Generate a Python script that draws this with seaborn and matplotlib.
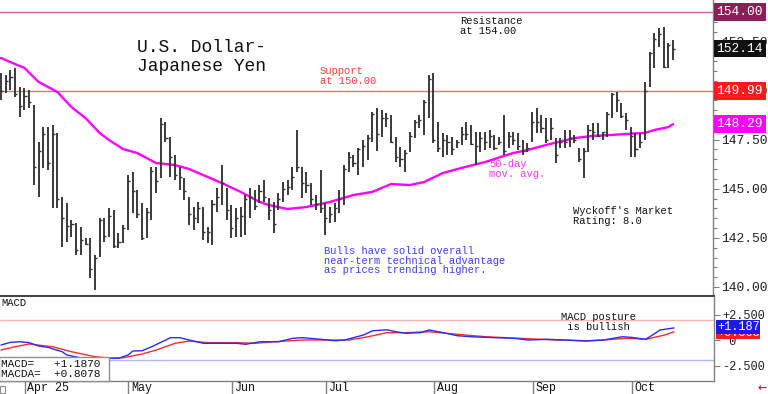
import numpy as np
import pandas as pd
import seaborn as sns
import matplotlib.pyplot as plt
from matplotlib import transforms
from matplotlib.patches import Rectangle

# daily bars, oldest first
highs = [150.9, 150.8, 151.05, 151.15, 150.2, 150.15, 150.05, 149.25, 147.4, 148.15,
         148.15, 148.25, 147.85, 144.6, 144.25, 143.4, 143.25, 143.05, 142.5, 142.5,
         141.65, 143.5, 143.5, 144.0, 143.9, 142.75, 143.15, 145.7, 145.85, 144.95,
         144.25, 144.0, 146.1, 146.1, 148.6, 148.4, 147.65, 146.7, 146.1, 145.55,
         144.6, 144.05, 144.35, 144.05, 143.05, 144.45, 145.05, 146.2, 145.05, 144.15,
         144.0, 144.05, 144.7, 145.05, 144.95, 145.2, 145.45, 144.55, 144.35, 144.8,
         145.35, 145.45, 146.1, 148.0, 146.1, 145.85, 145.3, 144.7, 145.95, 144.25,
         144.05, 144.25, 144.95, 146.2, 146.85, 146.7, 147.1, 147.5, 147.75, 148.9,
         149.1, 149.0, 148.85, 148.75, 147.65, 147.15, 146.95, 147.9, 148.5, 148.75,
         149.5, 150.8, 150.9, 148.4, 147.85, 147.75, 147.65, 147.5, 148.15, 148.4,
         148.25, 147.9, 147.9, 147.9, 148.0, 147.75, 147.65, 148.75, 147.9, 147.9,
         147.85, 147.5, 147.35, 148.9, 149.1, 148.75, 148.6, 148.6, 147.6, 147.6,
         148.0, 148.0, 147.75, 147.1, 147.1, 148.25, 148.35, 148.35, 147.9, 148.9,
         149.9, 149.95, 149.35, 148.85, 148.15, 147.85, 147.85, 150.45, 151.95, 152.95,
         153.2, 153.25, 152.4, 152.55]
lows = [149.5, 149.9, 150.05, 149.65, 148.65, 149.0, 149.1, 145.2, 144.6, 146.05,
        145.95, 144.0, 144.0, 142.05, 142.3, 142.55, 141.65, 141.65, 142.15, 140.45,
        139.85, 141.55, 142.3, 142.55, 142.0, 142.0, 142.25, 142.9, 143.75, 143.5,
        142.4, 142.5, 143.4, 144.8, 145.55, 147.4, 145.6, 145.45, 144.95, 144.45,
        143.15, 142.9, 143.25, 142.4, 142.25, 142.15, 143.8, 144.15, 143.4, 142.5,
        142.55, 142.55, 142.65, 143.5, 143.9, 144.25, 144.35, 143.4, 142.75, 143.9,
        144.35, 144.7, 144.95, 145.85, 144.55, 144.8, 144.15, 143.9, 143.75, 142.65,
        143.25, 143.3, 143.75, 144.15, 145.85, 146.1, 145.7, 146.1, 146.45, 147.4,
        146.9, 147.65, 148.15, 147.35, 146.35, 146.1, 145.85, 146.85, 147.6, 148.1,
        147.75, 148.6, 147.35, 146.85, 146.6, 146.7, 146.7, 147.1, 147.25, 147.5,
        147.25, 146.2, 146.85, 146.95, 147.1, 146.95, 147.25, 146.7, 147.1, 147.25,
        146.95, 146.7, 146.85, 147.4, 147.85, 147.85, 147.35, 147.5, 146.3, 147.1,
        147.1, 147.15, 147.35, 146.35, 145.55, 146.85, 147.5, 147.65, 147.5, 147.65,
        148.6, 148.9, 148.6, 148.0, 146.6, 146.6, 147.1, 147.5, 150.2, 151.15,
        152.2, 151.15, 151.15, 151.55]
closes = [150.0, 150.5, 150.7, 149.8, 149.2, 149.7, 149.4, 146.1, 146.9, 147.8,
          146.3, 147.8, 144.5, 143.5, 143.1, 143.2, 141.9, 142.4, 142.2, 140.9,
          141.5, 143.4, 142.6, 143.6, 142.1, 142.3, 143.0, 145.4, 144.9, 143.7,
          142.5, 143.8, 145.9, 145.4, 148.3, 147.6, 146.6, 145.7, 145.6, 144.9,
          143.7, 143.5, 144.0, 142.8, 142.8, 144.2, 144.6, 145.3, 143.9, 143.0,
          143.5, 143.6, 144.5, 144.6, 144.1, 144.9, 144.6, 143.9, 143.2, 144.5,
          145.0, 145.1, 145.6, 146.1, 145.3, 145.2, 144.5, 144.2, 144.0, 143.5,
          143.7, 144.0, 144.5, 146.0, 146.6, 146.3, 147.0, 147.2, 147.6, 148.8,
          147.8, 148.6, 148.6, 147.4, 146.6, 146.5, 146.8, 147.7, 148.4, 148.5,
          149.4, 150.6, 147.5, 147.1, 147.5, 147.4, 147.0, 147.4, 147.8, 147.8,
          147.3, 147.2, 147.6, 147.4, 147.7, 147.1, 147.4, 146.9, 147.7, 147.5,
          147.2, 146.9, 147.1, 148.4, 148.4, 148.1, 147.5, 148.1, 146.7, 147.4,
          147.4, 147.6, 147.5, 146.5, 146.9, 148.0, 147.9, 147.7, 147.9, 148.8,
          149.8, 149.5, 148.7, 148.5, 147.7, 147.0, 147.4, 150.0, 151.9, 152.6,
          152.9, 151.2, 152.3, 152.14]

# 50-day moving average, sampled along the magenta line
ma_idx = [0, 2, 5, 8, 12, 15, 18, 21, 23, 26, 29, 33, 37, 40, 44, 47, 51, 55, 57, 61,
          65, 70, 75, 79, 83, 87, 90, 94, 98, 103, 109, 112, 116, 122, 126, 130, 133,
          137, 139, 142, 143]
ma_vals = [151.66, 151.45, 151.15, 150.44, 149.93, 149.16, 148.6, 147.84, 147.48, 147.02,
           146.82, 146.31, 146.21, 146.01, 145.6, 145.29, 144.84, 144.33, 144.17, 143.97,
           144.07, 144.33, 144.68, 144.84, 145.24, 145.19, 145.34, 145.8, 146.06, 146.36,
           146.82, 146.97, 147.23, 147.58, 147.69, 147.74, 147.79, 147.84, 147.99, 148.14,
           148.29]

# MACD (blue) and MACDA signal (red)
macd_idx = [0, 2, 4, 6, 8, 10, 13, 14, 17, 20, 23, 25, 27, 28, 30, 32, 35, 36, 38, 40,
            43, 46, 50, 52, 55, 59, 62, 64, 68, 71, 73, 77, 79, 82, 84, 86, 89, 91, 94,
            97, 100, 105, 109, 112, 116, 120, 124, 128, 132, 134, 137, 139, 140, 143]
macd_vals = [-0.49, -0.23, -0.17, -0.26, -0.59, -0.72, -1.15, -1.47, -1.76, -1.86,
             -1.79, -1.79, -1.47, -1.08, -1.05, -0.66, 0.0, 0.23, 0.23, 0.0,
             -0.32, -0.32, -0.32, -0.42, -0.17, -0.17, 0.17, 0.23, 0.07, -0.07,
             0.0, 0.49, 0.91, 1.0, 0.81, 0.66, 0.72, 0.98, 0.72, 0.42,
             0.32, 0.23, 0.17, 0.0, 0.07, 0.0, -0.1, 0.0, 0.32, 0.26,
             0.07, 0.66, 0.98, 1.187]
sig_idx = [0, 3, 6, 11, 15, 20, 23, 26, 30, 33, 37, 40, 44, 50, 54, 58, 64, 70, 74, 78,
           82, 86, 91, 97, 103, 110, 118, 125, 128, 133, 137, 141, 143]
sig_vals = [-0.98, -0.66, -0.39, -0.66, -1.15, -1.64, -1.79, -1.74, -1.37, -0.98,
            -0.32, -0.1, -0.26, -0.26, -0.32, -0.17, 0.0, 0.0, 0.0, 0.32,
            0.72, 0.72, 0.81, 0.56, 0.32, 0.17, 0.0, -0.07, 0.0, 0.17,
            0.07, 0.49, 0.8078]

month_labels = ["Apr 25", "May", "Jun", "Jul", "Aug", "Sep", "Oct"]
month_start = [5, 27, 49, 69, 92, 113, 134]

W, H = 768, 394
def fx(px):
    return px / W
def fy(py):
    return 1 - py / H

sns.set_theme(style="white")
plt.rcParams['font.family'] = ['Liberation Mono', 'DejaVu Sans']

fig = plt.figure(figsize=(7.68, 3.94), dpi=100)
ax = fig.add_axes([0, fy(296), fx(713), 296 / H])
ax2 = fig.add_axes([0, fy(381), fx(714), (381 - 297) / H])

x = np.arange(len(highs))
xlim = (-0.21, 151.5)

# ---- price panel ----
ax.axhline(154.0, color='#c46a8e', lw=1.0, zorder=1)
ax.axhline(150.0, color='#f07070', lw=1.0, zorder=1)
ax.vlines(x, lows, highs, color='#333333', lw=1.35, zorder=3)
ax.hlines(closes, x, x + 0.45, color='#333333', lw=1.0, zorder=3)
sns.lineplot(x=ma_idx, y=ma_vals, ax=ax, color='#ff00ff', lw=1.7, zorder=2,
             estimator=None, sort=False)

ax.set_xlim(*xlim)
ax.set_ylim(139.54, 154.61)
ax.set_xticks([])
ax.yaxis.tick_right()
ax.set_yticks([140, 142.5, 145, 147.5, 150, 152.5])
ax.set_yticklabels(["140.00", "142.50", "145.00", "147.50", "150.00", "152.50"])
ax.set_yticks(np.arange(140, 154.01, 0.5), minor=True)
ax.tick_params(axis='y', which='major', right=True, length=4, width=0.8,
               color='#808080', labelsize=9.4, pad=2, labelcolor='#222222')
ax.tick_params(axis='y', which='minor', right=True, length=3, width=0.8, color='#808080')
for s in ['top', 'left']:
    ax.spines[s].set_visible(False)
ax.spines['right'].set_color('#808080')
ax.spines['right'].set_linewidth(1.0)
ax.spines['bottom'].set_color('#444444')
ax.spines['bottom'].set_linewidth(2.2)
ax.set_xlabel('')
ax.set_ylabel('')

ytr = transforms.blended_transform_factory(ax.transAxes, ax.transData)
for val, txt, col in [(154.0, "154.00", '#8c1f55'), (149.99, "149.99", '#ff1a1a'),
                      (148.29, "148.29", '#ff00ff'), (152.14, "152.14", '#111111')]:
    ax.text(1.005, val, txt, transform=ytr, ha='left', va='center', fontsize=9.4,
            color='white', clip_on=False,
            bbox=dict(facecolor=col, edgecolor='none', boxstyle='square,pad=0.22'))

fig.text(fx(137), fy(39), "U.S. Dollar-\nJapanese Yen", fontsize=13, va='top',
         ha='left', color='#111111', linespacing=1.12)
fig.text(fx(460), fy(16), "Resistance\nat 154.00", fontsize=7.6, va='top',
         color='#111111', linespacing=1.0)
fig.text(fx(320), fy(66), "Support\nat 150.00", fontsize=7.6, va='top',
         color='#ff3c3c', linespacing=1.0)
fig.text(fx(489), fy(159), "50-day\nmov. avg.", fontsize=7.6, va='top',
         color='#ff33ff', linespacing=1.0)
fig.text(fx(573), fy(206), "Wyckoff's Market\nRating: 8.0", fontsize=7.6, va='top',
         color='#111111', linespacing=1.0)
fig.text(fx(324), fy(246), "Bulls have solid overall\nnear-term technical advantage\n"
         "as prices trending higher.", fontsize=7.5, va='top', color='#3c3cff',
         linespacing=0.95)

# ---- MACD panel ----
ax2.axhline(2.0, color='#ffb4b4', lw=1.0, zorder=1)
ax2.axhline(-2.0, color='#b4b4ff', lw=1.0, zorder=1)
sns.lineplot(x=sig_idx, y=sig_vals, ax=ax2, color='#ff2a2a', lw=1.0, zorder=2,
             estimator=None, sort=False)
sns.lineplot(x=macd_idx, y=macd_vals, ax=ax2, color='#2a2aff', lw=1.0, zorder=3,
             estimator=None, sort=False)
ax2.set_xlim(*xlim)
ax2.set_ylim(-4.02, 4.22)
ax2.set_xticks([])
ax2.yaxis.tick_right()
ax2.set_yticks([-2.5, 0, 2.5])
ax2.set_yticklabels(["-2.500", " 0", "+2.500"])
ax2.tick_params(axis='y', right=True, length=4, width=0.8, color='#808080',
                labelsize=8.6, pad=2, labelcolor='#222222')
ax2.spines['top'].set_visible(False)
ax2.spines['left'].set_visible(False)
for s in ['right', 'bottom']:
    ax2.spines[s].set_color('#808080')
    ax2.spines[s].set_linewidth(1.0)
ax2.set_xlabel('')
ax2.set_ylabel('')

ytr2 = transforms.blended_transform_factory(ax2.transAxes, ax2.transData)
ax2.text(1.004, 0.72, "+0.808", transform=ytr2, ha='left', va='center', fontsize=8.6,
         color='white', clip_on=False,
         bbox=dict(facecolor='#ff1a1a', edgecolor='none', boxstyle='square,pad=0.05'))
ax2.text(1.004, 1.27, "+1.187", transform=ytr2, ha='left', va='center', fontsize=8.6,
         color='white', clip_on=False,
         bbox=dict(facecolor='#1a1aee', edgecolor='none', boxstyle='square,pad=0.05'))

fig.text(fx(1), fy(298), "MACD", fontsize=7.6, va='top', color='#111111')
fig.text(fx(561), fy(312), "MACD posture\n is bullish", fontsize=7.6, va='top',
         color='#111111', linespacing=1.0)
fig.text(fx(1), fy(379), "MACD=   +1.1870 \nMACDA=  +0.8078 ", fontsize=8.0, va='bottom',
         ha='left', color='#111111', linespacing=1.0, zorder=5,
         bbox=dict(facecolor='white', edgecolor='#909090', boxstyle='square,pad=0.2'))

# month ticks under the MACD panel
btr = transforms.blended_transform_factory(ax2.transData, fig.transFigure)
ax2.vlines(month_start, 0, fy(381), transform=btr, color='#808080', lw=1.0, clip_on=False)
lbl_tr = btr + transforms.ScaledTranslation(2 / 72, 0, fig.dpi_scale_trans)
for i, lab in zip(month_start, month_labels):
    ax2.text(i, fy(388), lab, transform=lbl_tr, ha='left', va='center', fontsize=8.4,
             color='#111111', clip_on=False)

fig.patches.append(Rectangle((0, fy(393)), fx(5), 7 / H, transform=fig.transFigure,
                             facecolor='white', edgecolor='#909090', lw=0.8))
fig.text(fx(757), fy(388), "\u2190", fontsize=8, fontweight='bold', color='#ee1111',
         va='center', family='DejaVu Sans')

fig.savefig("out.png", dpi=100)
